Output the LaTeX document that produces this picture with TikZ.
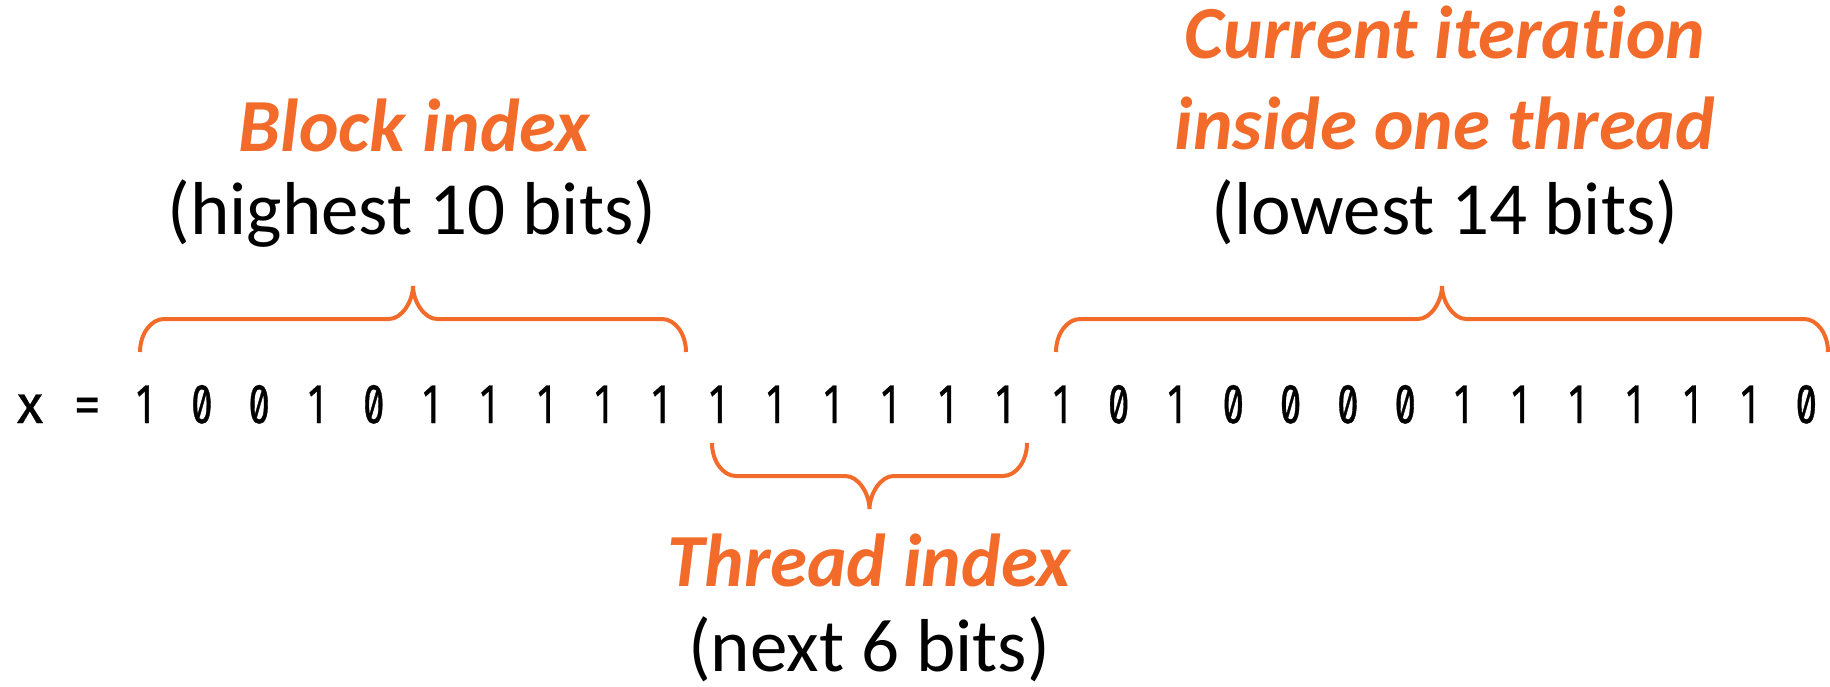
\documentclass[tikz,border=0pt]{standalone}
\usepackage{fontspec}
\setmainfont[Ligatures=NoCommon]{Carlito}
\newfontfamily\bitfont[Numbers=SlashedZero,FakeStretch=0.68,FakeBold=0.6]{Fira Sans}
\newfontfamily\opfont[FakeBold=0.6]{Fira Sans}
\definecolor{accent}{HTML}{F26B2A}

% curly brace: left x, right x, end y, bar y, tip y
\newcommand{\bitbrace}[5]{%
  \draw[bracestyle]
    (#1,#3) .. controls (#1,{#4+0.45*(#3-#4)}) and ({#1+11},#4) .. ({#1+24},#4)
    -- ({(#1+#2)/2-24},#4)
    .. controls ({(#1+#2)/2-11},#4) and ({(#1+#2)/2},{#5+0.45*(#4-#5)}) .. ({(#1+#2)/2},#5)
    .. controls ({(#1+#2)/2},{#5+0.45*(#4-#5)}) and ({(#1+#2)/2+11},#4) .. ({(#1+#2)/2+24},#4)
    -- ({#2-24},#4)
    .. controls ({#2-11},#4) and (#2,{#4+0.45*(#3-#4)}) .. (#2,#3);
}

\begin{document}
\begin{tikzpicture}[x=1pt,y=-1pt,
  bitstyle/.style={font=\bitfont\fontsize{56}{56}\selectfont, anchor=base, inner sep=0pt},
  opstyle/.style={font=\opfont\fontsize{54}{54}\selectfont, anchor=base, inner sep=0pt},
  headstyle/.style={font=\bfseries\itshape\fontsize{75}{90}\selectfont, text=accent, anchor=base, inner sep=0pt},
  notestyle/.style={font=\fontsize{75}{90}\selectfont, anchor=base, inner sep=0pt},
  bracestyle/.style={draw=accent, line width=4pt}]
\useasboundingbox (0,0) rectangle (1830,686);

% the value and its bits
\node[opstyle] (xname) at (30,423) {x};
\node[opstyle] (eq) at (87.3,423) {=};
\foreach \b [count=\i] in {1,0,0,1,0,1,1,1,1,1,1,1,1,1,1,1,1,0,1,0,0,0,0,1,1,1,1,1,1,0}
  \node[bitstyle] (b\i) at ({144.6+57.3*(\i-1)},423) {\b};

% braces grouping the bits
\bitbrace{140}{686}{352}{319}{286}
\bitbrace{712}{1027}{443}{476}{509}
\bitbrace{1056}{1828}{352}{319}{286}

% labels
\node[headstyle] (blk) at (414,151) {Block index};
\node[notestyle] (blknote) at (412,234) {(highest 10 bits)};
\node[headstyle] (thr) at (869,586) {Thread index};
\node[notestyle] (thrnote) at (869,671) {(next 6 bits)};
\node[headstyle] (itr1) at (1445,58) {Current iteration};
\node[headstyle] (itr2) at (1445,149) {inside one thread};
\node[notestyle] (itrnote) at (1445,234) {(lowest 14 bits)};
\end{tikzpicture}
\end{document}
